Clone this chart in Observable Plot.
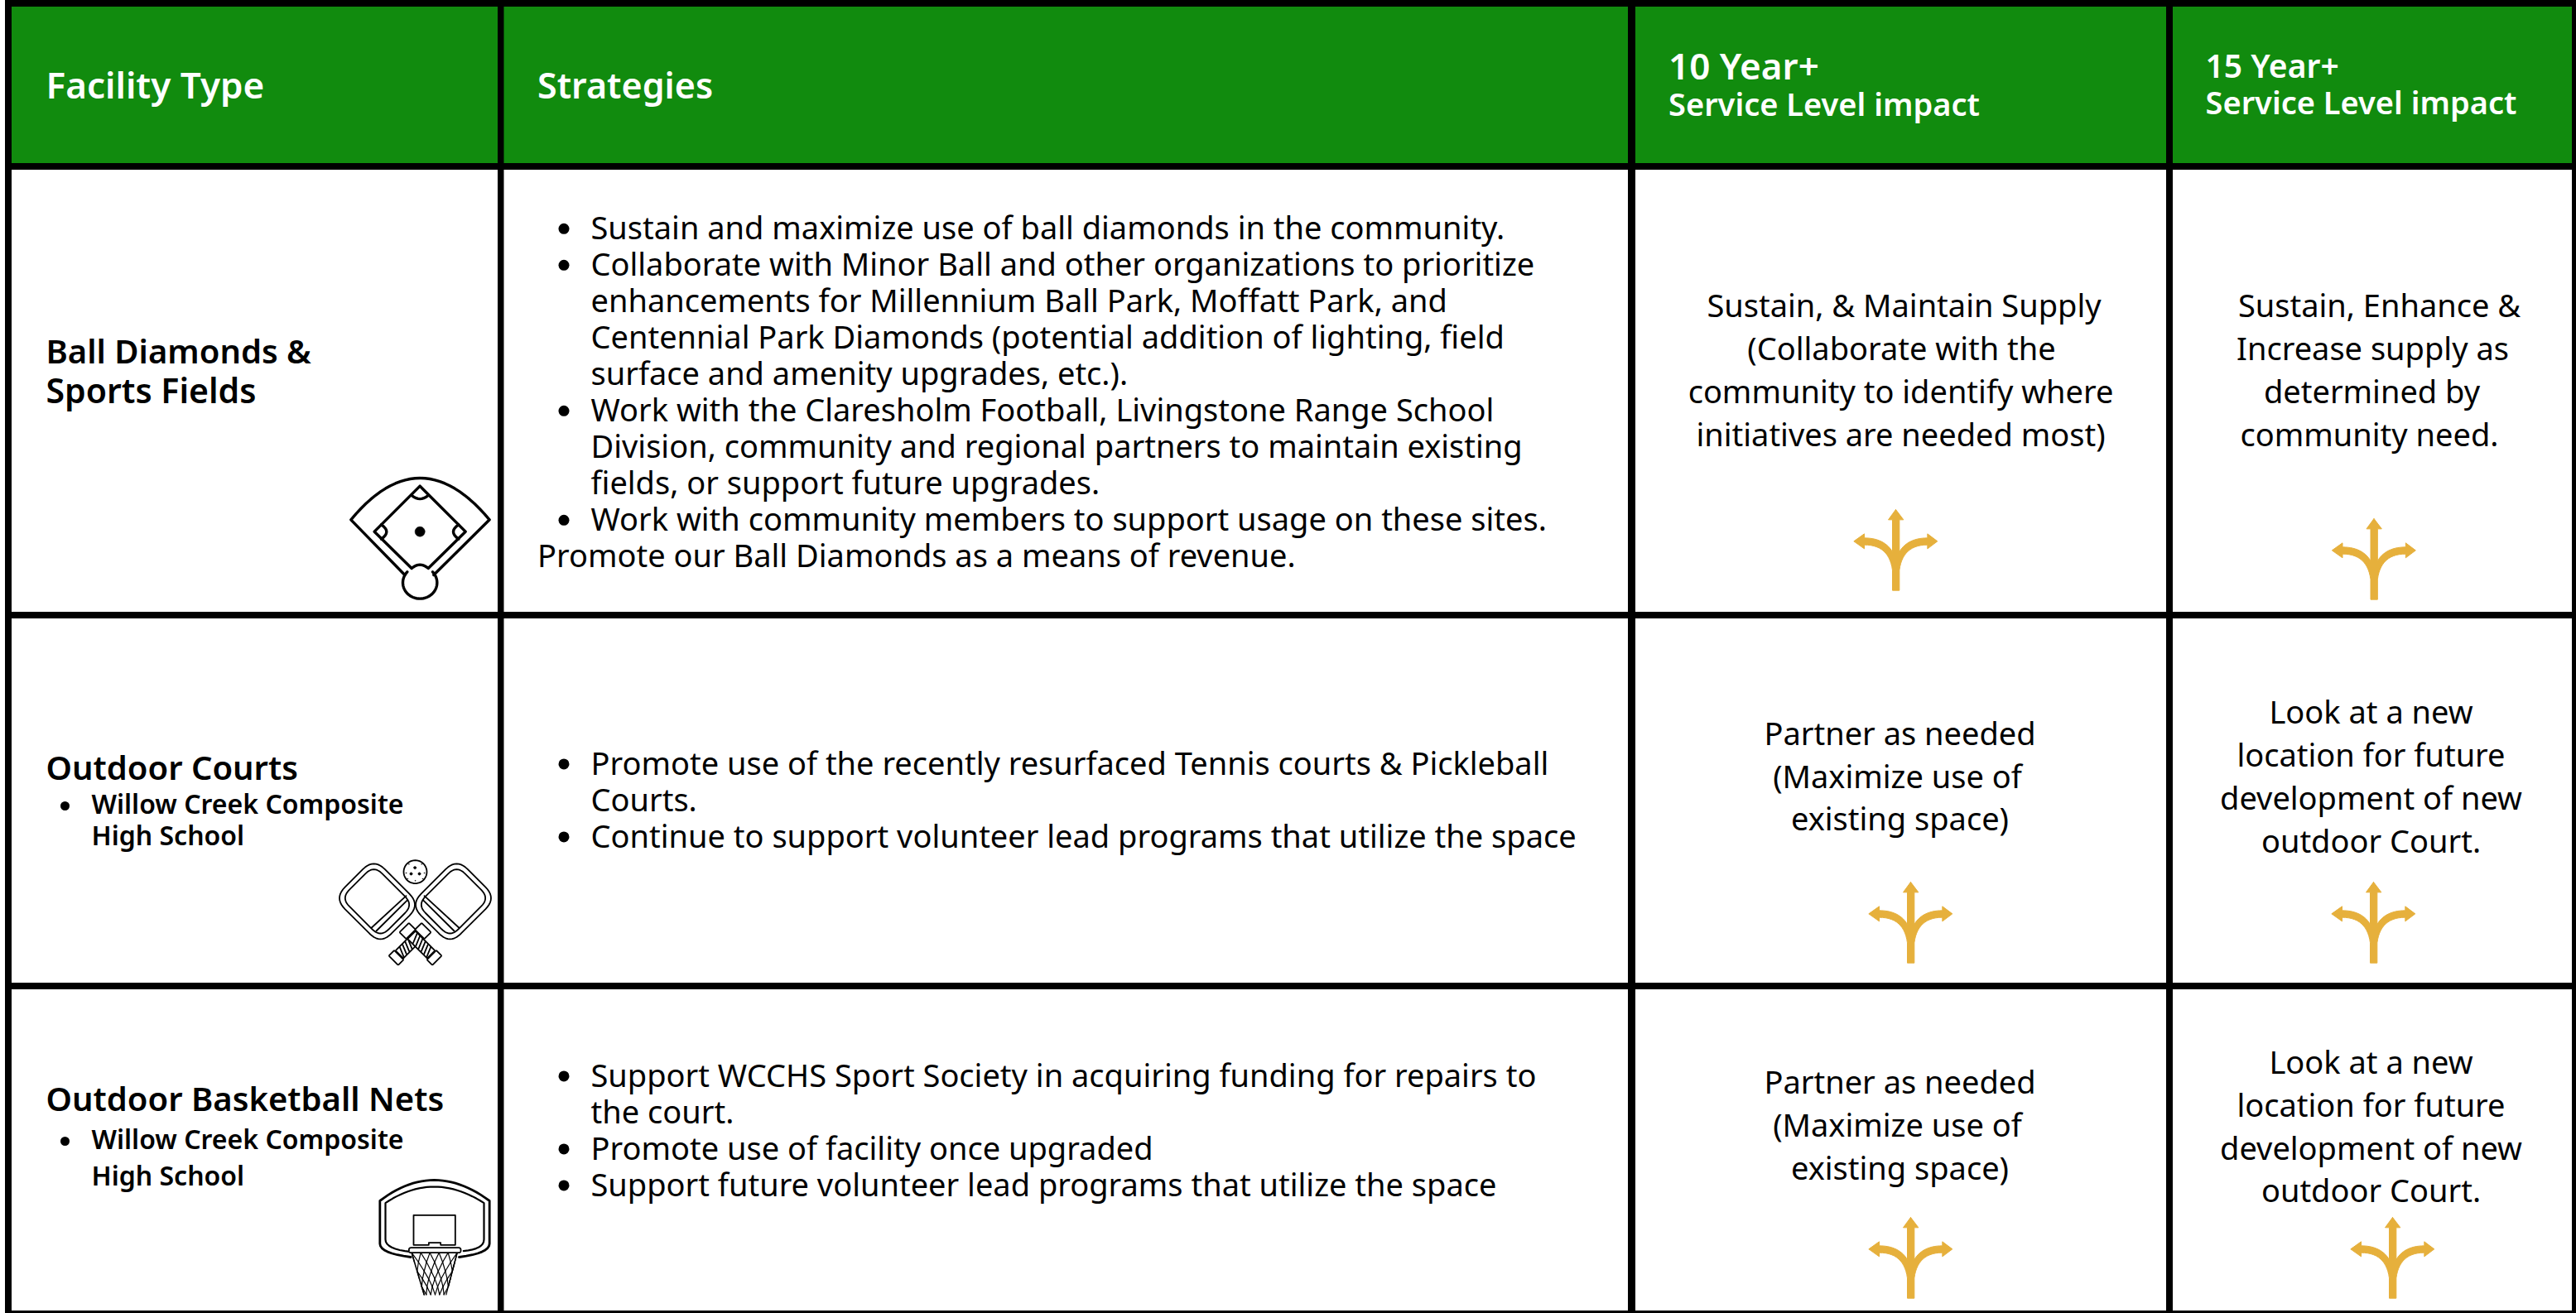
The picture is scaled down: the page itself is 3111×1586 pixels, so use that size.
<!DOCTYPE html>
<html><head><meta charset="utf-8">
<script src="https://cdn.jsdelivr.net/npm/d3@7"></script>
<script src="https://cdn.jsdelivr.net/npm/@observablehq/plot@0.6"></script>
<style>html,body{margin:0;padding:0;background:#fff}svg{display:block}</style>
</head><body><div id="chart"></div>
<script>
// ---- chart content ----
const headers = ["Facility Type", "Strategies"];
const header10 = ["10 Year+", "Service Level impact"];
const header15 = ["15 Year+", "Service Level impact"];
const facilityBall = ["Ball Diamonds &", "Sports Fields"];
const facilityCourts = "Outdoor Courts";
const facilityNets = "Outdoor Basketball Nets";
const schoolLines = ["Willow Creek Composite", "High School"];
const strategiesBall = [
  "Sustain and maximize use of ball diamonds in the community.",
  "Collaborate with Minor Ball and other organizations to prioritize",
  "enhancements for Millennium Ball Park, Moffatt Park, and",
  "Centennial Park Diamonds (potential addition of lighting, field",
  "surface and amenity upgrades, etc.).",
  "Work with the Claresholm Football, Livingstone Range School",
  "Division, community and regional partners to maintain existing",
  "fields, or support future upgrades.",
  "Work with community members to support usage on these sites.",
  "Promote our Ball Diamonds as a means of revenue."
];
const strategiesCourts = [
  "Promote use of the recently resurfaced Tennis courts & Pickleball",
  "Courts.",
  "Continue to support volunteer lead programs that utilize the space"
];
const strategiesNets = [
  "Support WCCHS Sport Society in acquiring funding for repairs to",
  "the court.",
  "Promote use of facility once upgraded",
  "Support future volunteer lead programs that utilize the space"
];
const impact10Ball = ["Sustain, & Maintain Supply", "(Collaborate with the", "community to identify where", "initiatives are needed most)"];
const impact15Ball = ["Sustain, Enhance &", "Increase supply as", "determined by", "community need."];
const impact10Partner = ["Partner as needed", "(Maximize use of", "existing space)"];
const impact15New = ["Look at a new", "location for future", "development of new", "outdoor Court."];

// ---- layout ----
const W = 3111, H = 1586;
const FONT = "'Noto Sans', Roboto, sans-serif";
const GREEN = "#118b0e", GOLD = "#e6b03c";
const cols = [[14, 601], [608.5, 1966], [1975, 2616], [2624, 3106]];
const rows = [[8, 197], [205, 739], [747, 1187], [1195, 1583]];
const cells = [];
rows.forEach((r, i) => cols.forEach(c => cells.push({x1: c[0], x2: c[1], y1: r[0], y2: r[1], fill: i ? "white" : GREEN})));

const texts = [], bullets = [];
const put = (text, x, y, size, weight, color, anchor) => texts.push({text, x, y, size, weight, color: color || "black", anchor: anchor || "start"});
put(headers[0], 55, 118, 44, 600, "white");
put(headers[1], 648.5, 118, 43, 600, "white");
put(header10[0], 2014.5, 95.5, 44, 600, "white");
put(header10[1], 2014.5, 139.5, 38, 600, "white");
put(header15[0], 2663, 93.5, 39, 600, "white");
put(header15[1], 2663, 137.5, 38, 600, "white");

put(facilityBall[0], 55, 438.5, 40, 600);
put(facilityBall[1], 55, 486.5, 41, 600);
put(facilityCourts, 55, 941, 40, 600);
put(facilityNets, 55, 1341, 40, 600);
[[982, 1020], [1387, 1431]].forEach(ys => {
  put(schoolLines[0], 110, ys[0], 32, 600);
  put(schoolLines[1], 110, ys[1], 32, 600);
  bullets.push({x: 78, y: ys[0] - 9, r: 5.5});
});
function strategyBlock(lines, startY, bulletIdx, outdent) {
  lines.forEach((t, i) => {
    const y = startY + i * 44;
    put(t, outdent.includes(i) ? 648.5 : 713, y, 38, 400);
    if (bulletIdx.includes(i)) bullets.push({x: 680.5, y: y - 12.6, r: 6.5});
  });
}
strategyBlock(strategiesBall, 288.4, [0, 1, 5, 8], [9]);
strategyBlock(strategiesCourts, 935, [0, 2], []);
strategyBlock(strategiesNets, 1312, [0, 2, 3], []);
function centerBlock(lines, cxs, ys) { lines.forEach((t, i) => put(t, cxs[i], ys[i], 38, 400, "black", "middle")); }
centerBlock(impact10Ball, [2299, 2296, 2295, 2295], [382, 434, 486, 538]);
centerBlock(impact15Ball, [2873, 2865, 2864, 2861], [382, 434, 486, 538]);
centerBlock(impact10Partner, [2294, 2291, 2294], [899.5, 951, 1002.5]);
centerBlock(impact15New, [2863, 2863, 2863, 2863], [873.5, 925, 977, 1029.5]);
centerBlock(impact10Partner, [2294, 2291, 2294], [1320, 1372, 1424.5]);
centerBlock(impact15New, [2863, 2863, 2863, 2863], [1296, 1348, 1400, 1451.5]);

// ---- pictogram geometry helpers ----
const q = (a, c, b, n = 14) => d3.range(1, n + 1).map(i => { const t = i / n, s = 1 - t; return [s*s*a[0] + 2*s*t*c[0] + t*t*b[0], s*s*a[1] + 2*s*t*c[1] + t*t*b[1]]; });
const circlePts = (cx, cy, r, n = 40) => d3.range(n + 1).map(i => [cx + r*Math.cos(2*Math.PI*i/n), cy + r*Math.sin(2*Math.PI*i/n)]);
const place = (pts, ox, oy) => pts.map(p => ({x: ox + p[0]/3, y: oy + p[1]/3}));
const shapes = [];
const shape = (pts, ox, oy, w, fill, stroke) => shapes.push({pts: place(pts, ox, oy), w, fill: fill || "none", stroke: stroke || "black"});
function rrect(cx, cy, hl, hw, r, ang) {
  const corners = [[hl, hw, 0], [-hl, hw, 1], [-hl, -hw, 2], [hl, -hw, 3]];
  const out = [];
  corners.forEach(([a, b, k]) => {
    const sa = Math.sign(a), sb = Math.sign(b);
    const first = k % 2 === 0 ? [a, b - sb*r] : [a - sa*r, b];
    const last = k % 2 === 0 ? [a - sa*r, b] : [a, b - sb*r];
    out.push(first, ...q(first, [a, b], last, 10));
  });
  out.push(out[0]);
  const c = Math.cos(ang), s = Math.sin(ang);
  return out.map(([a, b]) => [cx + a*c - b*s, cy + a*s + b*c]);
}
const mirror = (pts, m) => pts.map(p => [m - p[0], p[1]]);

// baseball diamond
(function () {
  const ox = 420, oy = 540, w = 3.4;
  shape([[205,462],[10,262],...q([10,262],[260,-40],[512,262],28),[310,462]], ox, oy, w);
  shape(d3.range(-42, 225, 6).map(d => [260 + 62*Math.cos(d*Math.PI/180), 490 + 58*Math.sin(d*Math.PI/180)]), ox, oy, w);
  shape([[230,438],[95,305],[260,140],[425,305],[290,438],...q([290,438],[260,412],[230,438],10)], ox, oy, w);
  shape([[232,175],...q([232,175],[260,198],[288,175],8)], ox, oy, w);
  shape([[120,280],...q([120,280],[158,305],[120,332],8)], ox, oy, w);
  shape([[400,280],...q([400,280],[362,305],[400,332],8)], ox, oy, w);
  shape(circlePts(260,305,18), ox, oy, 0.5, "black");
})();

// pickleball paddles
(function () {
  const ox = 380, oy = 980, w = 1.8, A = Math.PI/4, M = 726;
  const variant = [p => p, p => mirror(p, M)];
  const grip = [[385,482,50,20],[432,529,14,24],[335,432,17,24]];
  [1,0].forEach(v => {
    const f = variant[v];
    shape(f(rrect(225,325,119,102,56,A)), ox, oy, w, "white");
    shape(f(rrect(225,325,101,84,42,A)), ox, oy, w);
    shape(f([[205,420],[330,305]]), ox, oy, w);
    shape(f([[222,432],[335,320]]), ox, oy, w);
  });
  [1,0].forEach(v => {
    const f = variant[v];
    grip.forEach(([cx,cy,hl,hw]) => shape(f(rrect(cx,cy,hl,hw,4,A)), ox, oy, w, "white"));
    d3.range(-36, 40, 14).forEach(d => {
      const cx = 385 + d*Math.SQRT1_2, cy = 482 + d*Math.SQRT1_2;
      shape(f([[cx - 4, cy + 19],[cx + 10, cy - 15]]), ox, oy, w);
    });
  });
  shape(circlePts(363,218,42), ox, oy, w);
  [[362,203,5],[348,225,5],[378,225,5],[340,190,1.6],[386,190,1.6],[330,222,1.6],[396,222,1.6],[363,250,1.6],[335,243,1.6],[390,243,1.6]].forEach(([x,y,r]) => shape(circlePts(x,y,r,12), ox, oy, 0.4, "black"));
})();

// basketball hoop
(function () {
  const ox = 430, oy = 1400;
  shape([[197,354],...q([197,354],[85,340],[85,305],8),[85,150],...q([85,150],[280,0],[482,150],26),[482,305],...q([482,305],[482,340],[372,354],8)], ox, oy, 2.8);
  shape([[197,335],...q([197,335],[105,325],[105,290],8),[105,158],...q([105,158],[280,40],[462,158],26),[462,290],...q([462,290],[462,325],[388,332],8)], ox, oy, 2.2);
  shape([[207,310],[207,202],[358,202],[358,310],[305,310],[305,302],[262,302],[262,310],[207,310]], ox, oy, 1.8);
  const netRows = [338, 372, 405, 433, 461, 490];
  const node = (r, i) => {
    const v = netRows[r], l = 200 + (v - 338)*45/152, R = 365 - (v - 338)*40/152;
    return [l + (R - l)*Math.min(1, Math.max(0, (i + (r % 2)/2)/5)), v];
  };
  d3.range(netRows.length - 1).forEach(r => d3.range(0, 6).forEach(i => {
    const a = node(r, i);
    shape([a, node(r + 1, r % 2 ? i + 1 : i)], ox, oy, 1.2);
    shape([a, node(r + 1, r % 2 ? i : i - 1)], ox, oy, 1.2);
  }));
  shape([node(0, 0), node(5, -1)], ox, oy, 1.6);
  shape([node(0, 5), node(4, 5)], ox, oy, 1.6);
  shape(rrect(284,329,94,9,8,0), ox, oy, 1.8, "white");
})();

// three-way arrows (outline drawn in 3x units; top tip at u=207,v=15)
const arrowOutline = [
  [207,15],[235,52],[220,52],[220,168],...q([220,168],[250,118],[322,118]),[322,103],[358,130],[322,157],[322,143],
  ...q([322,143],[232,143],[220,235]),[220,308],[195,308],[195,235],...q([195,235],[183,143],[93,143]),
  [93,157],[55,130],[93,103],[93,118],...q([93,118],[165,118],[195,168]),[195,52],[180,52],[207,15]
];
const arrowAt = [[2289,615],[2866.5,626],[2307,1065],[2866,1065],[2307,1470],[2889,1470]];
arrowAt.forEach(([cx, top]) => shape(arrowOutline, cx - 207/3, top - 15/3, 1, GOLD, GOLD));

// ---- plot ----
const chart = Plot.plot({
  width: W, height: H, margin: 0,
  style: {background: "white"},
  x: {domain: [0, W], range: [0, W], axis: null},
  y: {domain: [0, H], range: [0, H], axis: null},
  r: {type: "identity"},
  marks: [
    Plot.rect([{x1: 6, x2: W, y1: 0, y2: H}], {x1: "x1", x2: "x2", y1: "y1", y2: "y2", fill: "black"}),
    Plot.rect(cells, {x1: "x1", x2: "x2", y1: "y1", y2: "y2", fill: "fill"}),
    ...shapes.map(s => Plot.line(s.pts, {x: "x", y: "y", stroke: s.stroke, fill: s.fill, strokeWidth: s.w, strokeLinejoin: "round", strokeLinecap: "round"})),
    Plot.dot(bullets, {x: "x", y: "y", r: "r", fill: "black"}),
    ...d3.groups(texts, d => [d.size, d.weight, d.color, d.anchor].join("|")).map(([, group]) =>
      Plot.text(group, {x: "x", y: "y", text: "text", lineAnchor: "bottom", textAnchor: group[0].anchor, fill: group[0].color,
        fontSize: group[0].size, fontWeight: group[0].weight, fontFamily: FONT}))
  ]
});
document.getElementById("chart").append(chart);
</script>
</body></html>
